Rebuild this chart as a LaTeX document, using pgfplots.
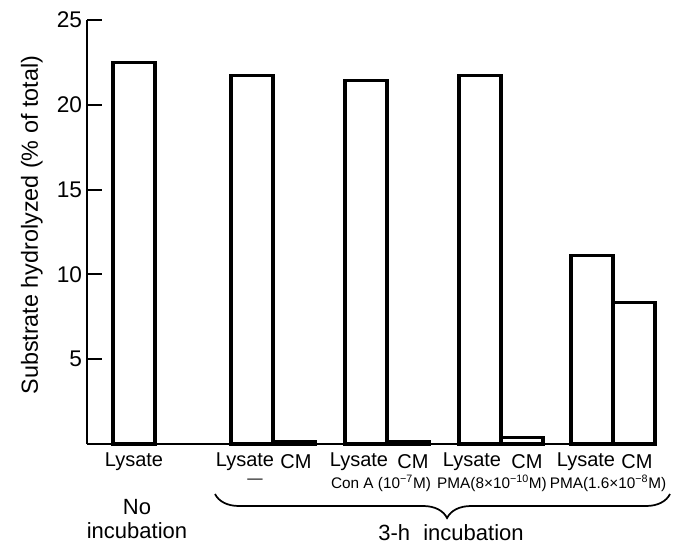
\documentclass[border=0pt]{standalone}
\usepackage{fontspec}
\setmainfont{Liberation Sans}
\usepackage{pgfplots}
\pgfplotsset{compat=1.18}
\usetikzlibrary{decorations.pathreplacing}

\begin{document}
\begin{tikzpicture}
\begin{axis}[
  at={(65.25pt,76.5pt)}, anchor=south west,
  x=0.75pt, y=12.72pt,
  xmin=87, xmax=655, ymin=0, ymax=25,
  axis lines=left,
  axis line style={-, line width=1.4pt},
  ytick={5,10,15,20,25}, xtick=\empty,
  tick align=inside, major tick length=11.25pt,
  tick style={line width=1.4pt, black},
  ytick pos=left,
  yticklabel style={font=\fontsize{17}{17}\selectfont, inner sep=0pt, xshift=-3.5pt},
  /pgf/number format/assume math mode=true,
  ylabel={Substrate hydrolyzed (\% of total)},
  every axis y label/.style={at={(axis description cs:-0.097,0.516)}, rotate=90, anchor=center, font=\fontsize{17.5}{17.5}\selectfont},
  ybar, bar width=42,
  clip=false,
]
% Lysate bars
\addplot[draw=black, fill=white, line width=2.3pt, bar shift=0pt] coordinates {
  (134,22.5) (252,21.7) (366,21.45) (480,21.75) (592,11.1)
};
% CM (conditioned medium) bars
\addplot[draw=black, fill=white, line width=2.3pt, bar shift=0pt] coordinates {
  (294,0.17) (408,0.15) (522,0.38) (634,8.35)
};
\end{axis}

\begin{scope}[x=0.75pt, y=-0.75pt, shift={(0pt,409.5pt)}]
  \begin{scope}[font=\fontsize{15}{15}\selectfont]
    \node at (134,462) {Lysate};
    \node at (245,462) {Lysate};
    \node at (296,462) {CM};
    \node at (359,462) {Lysate};
    \node at (413,462) {CM};
    \node at (472,462) {Lysate};
    \node at (527,462) {CM};
    \node at (586,462) {Lysate};
    \node at (637,462) {CM};
  \end{scope}
  \begin{scope}[font=\fontsize{11.5}{11.5}\selectfont]
    \node at (255,481) {---};
    \node at (381,483) {Con A (10\textsuperscript{−7}M)};
    \node at (492,483) {PMA(8×10\textsuperscript{−10}M)};
    \node at (608,483) {PMA(1.6×10\textsuperscript{−8}M)};
  \end{scope}
  \draw[line width=1.3pt, decorate, decoration={brace, amplitude=18pt, aspect=0.49}] (670,494) -- (215,494);
  \begin{scope}[font=\fontsize{16.5}{16.5}\selectfont]
    \node at (137,507) {No};
    \node at (137,531) {incubation};
    \node at (451,533) {3-h\hspace{0.6em}incubation};
  \end{scope}
\end{scope}
\pgfresetboundingbox
\useasboundingbox (0,0) rectangle (504.75pt,409.5pt);
\end{tikzpicture}
\end{document}
